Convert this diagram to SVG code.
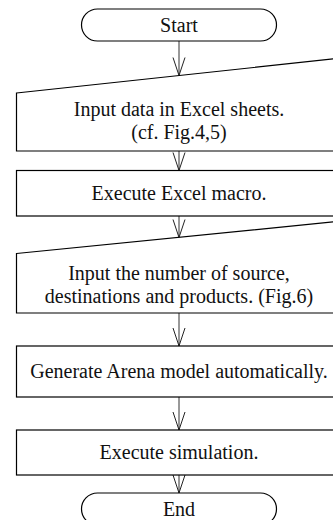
<svg xmlns="http://www.w3.org/2000/svg" width="333" height="520" viewBox="0 0 333 520">
<defs>
<marker id="arr" markerUnits="userSpaceOnUse" markerWidth="22" markerHeight="16" refX="19" refY="8" orient="auto" viewBox="0 0 22 16">
<path d="M1,2 L19,8 L1,14" fill="none" stroke="#222" stroke-width="1"/>
</marker>
<style>
.shape{fill:#fff;stroke:#000;stroke-width:1.2}
.t{font-family:"Liberation Serif","Times New Roman",serif;font-size:20px;fill:#111;text-anchor:middle}
.c{stroke:#333;stroke-width:1;fill:none;marker-end:url(#arr)}
</style>
</defs>
<rect width="333" height="520" fill="#fff"/>
<g id="connectors">
<line class="c" x1="179" y1="41" x2="179" y2="75.5"/>
<line class="c" x1="179" y1="151" x2="179" y2="170.5"/>
<line class="c" x1="179" y1="216" x2="179" y2="237.5"/>
<line class="c" x1="179" y1="313" x2="179" y2="346"/>
<line class="c" x1="179" y1="397" x2="179" y2="430"/>
<line class="c" x1="179" y1="475" x2="179" y2="493"/>
</g>
<g id="start">
<rect class="shape" x="81.5" y="9" width="195" height="32" rx="16" ry="16"/>
<text class="t" x="179" y="32">Start</text>
</g>
<g id="input1">
<polygon class="shape" points="16.5,93 342,58 342,151 16.5,151"/>
<text class="t" x="179" y="116">Input data in Excel sheets.</text>
<text class="t" x="179" y="139">(cf. Fig.4,5)</text>
</g>
<g id="macro">
<rect class="shape" x="16.5" y="170.5" width="326" height="45.5"/>
<text class="t" x="179" y="200">Execute Excel macro.</text>
</g>
<g id="input2">
<polygon class="shape" points="16.5,253.5 342,221 342,313 16.5,313"/>
<text class="t" x="179" y="280">Input the number of source,</text>
<text class="t" x="179" y="303">destinations and products. (Fig.6)</text>
</g>
<g id="generate">
<rect class="shape" x="16.5" y="346" width="326" height="51"/>
<text class="t" x="179" y="378">Generate Arena model automatically.</text>
</g>
<g id="simulate">
<rect class="shape" x="16.5" y="430" width="326" height="45"/>
<text class="t" x="179" y="459">Execute simulation.</text>
</g>
<g id="end">
<rect class="shape" x="81.5" y="493" width="195" height="32" rx="16" ry="16"/>
<text class="t" x="179" y="515.5">End</text>
</g>
</svg>
